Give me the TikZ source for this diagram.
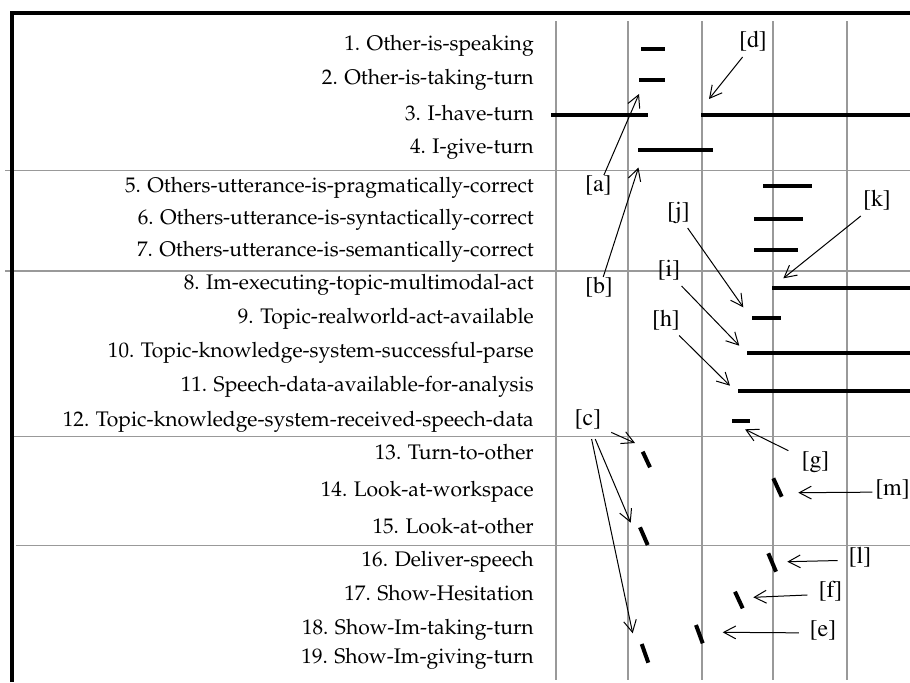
\documentclass[tikz,border=0pt]{standalone}
\usepackage[T1]{fontenc}
\usetikzlibrary{arrows.meta}
\newcommand{\rowlabelfont}{\fontfamily{ppl}\fontsize{15}{18}\selectfont}
\newcommand{\markfont}{\fontfamily{ptm}\fontsize{17}{20}\selectfont}
\begin{document}
\begin{tikzpicture}[x=0.25mm,y=-0.25mm,
  rowlab/.style={anchor=base east,inner sep=0pt,font=\rowlabelfont},
  evtag/.style={inner sep=0pt,outer sep=1.5mm,text height=0.75em,text depth=0.25em,font=\markfont},
  gridline/.style={black!40,line width=0.3mm},
  onbar/.style={line width=1mm},
  blip/.style={line width=1mm},
  ptr/.style={-{Straight Barb[length=3mm,width=3.2mm]},line width=0.25mm}]
\useasboundingbox (0,0) rectangle (910,682);
% frame and grid
\foreach \x in {556,628,702,773,847}
  \draw[gridline] (\x,21) -- (\x,680);
\draw[gridline] (5,170.7) -- (910,170.7);
\draw[gridline] (5,271) -- (910,271);
\draw[gridline] (12,436.3) -- (910,436.3);
\draw[gridline] (16,545.3) -- (910,545.3);
\draw[line width=1mm] (12,682) -- (12,13) -- (910,13);
% row labels
\foreach \n/\y/\t in {1/50/Other-is-speaking, 2/84/Other-is-taking-turn,
    3/120/I-have-turn, 4/153.5/I-give-turn,
    5/192.3/Others-utterance-is-pragmatically-correct,
    6/224/Others-utterance-is-syntactically-correct,
    7/256.7/Others-utterance-is-semantically-correct,
    8/289.3/Im-executing-topic-multimodal-act,
    9/323.3/Topic-realworld-act-available,
    10/357.7/Topic-knowledge-system-successful-parse,
    11/391.7/Speech-data-available-for-analysis,
    12/426/Topic-knowledge-system-received-speech-data,
    13/459.3/Turn-to-other, 14/496/Look-at-workspace, 15/533.3/Look-at-other,
    16/566.7/Deliver-speech, 17/600/Show-Hesitation,
    18/634/Show-Im-taking-turn, 19/663.3/Show-Im-giving-turn}
  \node[rowlab] (r\n) at (534,\y) {\n. \t};
% states
\draw[onbar] (641,49) -- (665,49);
\draw[onbar] (639,80) -- (665,80);
\draw[onbar] (551,115.3) -- (648,115.3);
\draw[onbar] (701,115.3) -- (910,115.3);
\draw[onbar] (638,150.3) -- (713,150.3);
\draw[onbar] (763,185.7) -- (812,185.7);
\draw[onbar] (754,219) -- (803,219);
\draw[onbar] (754,250) -- (798,250);
\draw[onbar] (772,288.3) -- (910,288.3);
\draw[onbar] (752,317.7) -- (781,317.7);
\draw[onbar] (747,353.3) -- (910,353.3);
\draw[onbar] (738,391.3) -- (910,391.3);
\draw[onbar] (732,421) -- (750,421);
% behaviours
\draw[blip] (642.7,451.7) -- (650,467.3);
\draw[blip] (773.3,478.3) -- (781.7,496.7);
\draw[blip] (640,527.3) -- (647.7,545);
\draw[blip] (768.3,553.3) -- (776,571.7);
\draw[blip] (735,591.7) -- (742.7,608.3);
\draw[blip] (696,625) -- (702.7,643.3);
\draw[blip] (641.7,644) -- (648.3,662.7);
% event marks
\coordinate (ta) at (639,94);
\coordinate (tb) at (638.5,167.5);
\coordinate (tc1) at (635,443);
\coordinate (tc2) at (630.7,522.7);
\coordinate (tc3) at (632.7,633.3);
\coordinate (td) at (709,99);
\coordinate (te) at (722.7,632.3);
\coordinate (tf) at (753.3,597.3);
\coordinate (tg) at (745,429.3);
\coordinate (th) at (730,385.7);
\coordinate (ti) at (739.3,345.7);
\coordinate (tj) at (743.3,307.3);
\coordinate (tk) at (783.3,278.3);
\coordinate (tl) at (787.3,561.7);
\coordinate (tm) at (798.3,492.7);
\node[evtag] (a) at (598.3,188) {[a]};
\node[evtag] (b) at (599,290) {[b]};
\node[evtag,outer sep=2.5mm] (c) at (588,422) {[c]};
\node[evtag] (d) at (753,44) {[d]};
\node[evtag,outer sep=2.7mm] (e) at (823,633) {[e]};
\node[evtag,outer sep=2.8mm] (f) at (830.5,594) {[f]};
\node[evtag,outer sep=3.3mm] (g) at (815.5,464) {[g]};
\node[evtag] (h) at (666,322.5) {[h]};
\node[evtag] (i) at (669,273) {[i]};
\node[evtag] (j) at (678.5,215) {[j]};
\node[evtag] (k) at (877,203) {[k]};
\node[evtag,outer sep=2.75mm] (l) at (860,560) {[l]};
\node[evtag,outer sep=0.7mm] (m) at (892.5,492) {[m]};
\draw[ptr] (a) -- (ta);
\draw[ptr] (b) -- (tb);
\draw[ptr] (c) -- (tc1);
\draw[ptr] (c) -- (tc2);
\draw[ptr] (c) -- (tc3);
\draw[ptr] (d) -- (td);
\draw[ptr] (e) -- (te);
\draw[ptr] (f) -- (tf);
\draw[ptr] (g) -- (tg);
\draw[ptr] (h) -- (th);
\draw[ptr] (i) -- (ti);
\draw[ptr] (j) -- (tj);
\draw[ptr] (k) -- (tk);
\draw[ptr] (l) -- (tl);
\draw[ptr] (m) -- (tm);
\end{tikzpicture}
\end{document}
